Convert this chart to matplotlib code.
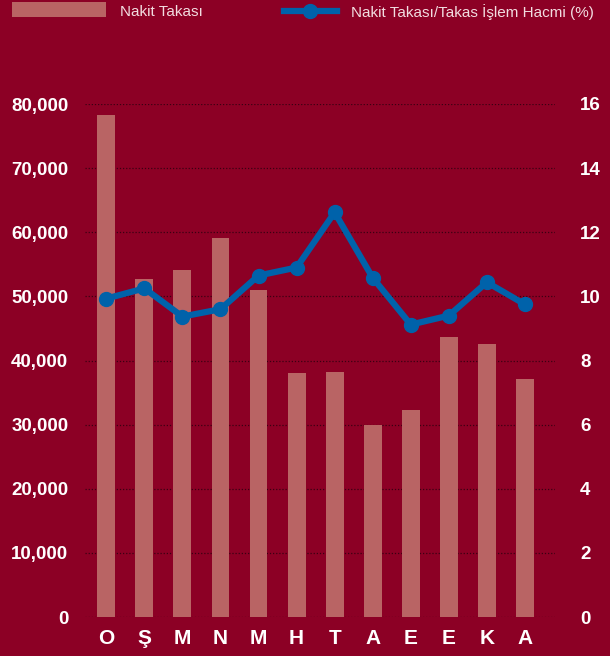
import numpy as np
import matplotlib.pyplot as plt
from matplotlib.lines import Line2D
from matplotlib.patches import Rectangle

months = ["O", "Ş", "M", "N", "M", "H", "T", "A", "E", "E", "K", "A"]
nakit_takasi = [78300, 52700, 54100, 59100, 51000, 38100, 38200, 29950, 32300, 43700, 42600, 37100]
oran = [9.93, 10.25, 9.37, 9.6, 10.65, 10.9, 12.62, 10.58, 9.12, 9.4, 10.44, 9.75]
left_ticks = [0, 10000, 20000, 30000, 40000, 50000, 60000, 70000, 80000]
right_ticks = [0, 2, 4, 6, 8, 10, 12, 14, 16]

bg = "#8c0025"
bar_col = "#b96464"
line_col = "#0062aa"

plt.rcParams['font.family'] = ['Liberation Sans', 'DejaVu Sans']

W, H = 610, 656
fig = plt.figure(figsize=(6.1, 6.56), dpi=100, facecolor=bg)
ax = fig.add_axes([85/W, 1-617/H, 470/W, (617-104)/H])
ax.set_facecolor(bg)
x = np.arange(len(months))
ax.bar(x, nakit_takasi, width=0.47, color=bar_col, zorder=2)
ax.set_ylim(0, 80000)
ax.set_xlim(-0.56, 11.79)
ax.set_yticks(left_ticks)
ax.set_yticklabels([f"{v:,}" for v in left_ticks])
ax.grid(axis='y', color='#3a0012', linestyle=(0, (1, 1.5)), linewidth=0.9, zorder=1)
ax.set_xticks(x)
ax.set_xticklabels(months)
for s in ax.spines.values():
    s.set_visible(False)
ax.tick_params(axis='y', length=0, pad=12, labelcolor='white', labelsize=13.5)
ax.tick_params(axis='x', length=0, pad=9, labelcolor='white', labelsize=15)
for t in ax.get_yticklabels() + ax.get_xticklabels():
    t.set_fontweight('bold')

ax2 = ax.twinx()
ax2.plot(x, oran, color=line_col, linewidth=4.5, marker='o', markersize=10, zorder=3)
ax2.set_ylim(0, 16)
ax2.set_yticks(right_ticks)
for s in ax2.spines.values():
    s.set_visible(False)
ax2.tick_params(axis='y', length=0, pad=18, labelcolor='white', labelsize=13.5)
for t in ax2.get_yticklabels():
    t.set_fontweight('bold')

# legend drawn by hand (pixel positions from top-left)
fig.patches.append(Rectangle((12/W, 1-17/H), 94/W, 15/H, transform=fig.transFigure,
                             facecolor=bar_col, edgecolor='none'))
fig.text(120/W, 1-12/H, "Nakit Takası", color='#f2dce0', fontsize=11, va='center', ha='left')
fig.lines.append(Line2D([284/W, 337/W], [1-11/H, 1-11/H], transform=fig.transFigure,
                        color=line_col, linewidth=4.5))
fig.lines.append(Line2D([310/W], [1-11/H], transform=fig.transFigure,
                        color=line_col, marker='o', markersize=10))
fig.text(351/W, 1-12/H, "Nakit Takası/Takas İşlem Hacmi (%)", color='#f2dce0',
         fontsize=11, va='center', ha='left')

fig.savefig("out.png", dpi=100, facecolor=bg)
